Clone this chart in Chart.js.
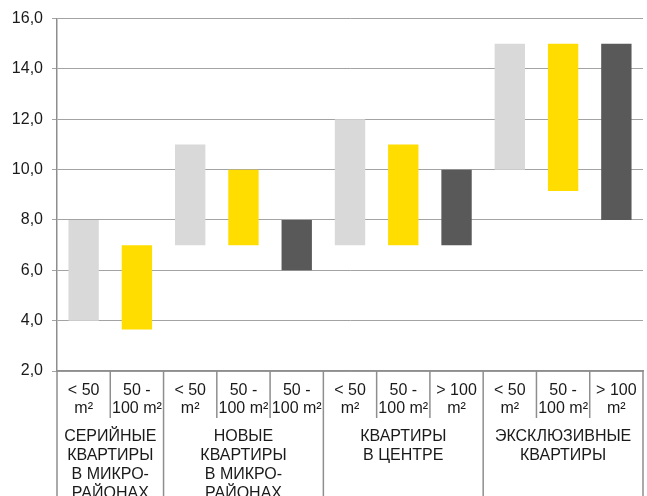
<!DOCTYPE html>
<html>
<head>
<meta charset="utf-8">
<script src="https://cdn.jsdelivr.net/npm/chart.js@4/dist/chart.umd.min.js"></script>
<style>
  html, body { margin: 0; padding: 0; background: #fff; }
  #wrap { width: 647px; height: 496px; }
</style>
</head>
<body>
<div id="wrap"><canvas id="c" width="647" height="496"></canvas></div>
<script>
// Apartment-size classes (first label row), one per bar
const sizeLabels = [
  ['< 50', 'm²'], ['50 -', '100 m²'],
  ['< 50', 'm²'], ['50 -', '100 m²'], ['50 -', '100 m²'],
  ['< 50', 'm²'], ['50 -', '100 m²'], ['> 100', 'm²'],
  ['< 50', 'm²'], ['50 -', '100 m²'], ['> 100', 'm²']
];
// Housing segments (second label row) and how many bars each covers
const groupNames = [
  ['СЕРИЙНЫЕ', 'КВАРТИРЫ', 'В МИКРО-', 'РАЙОНАХ'],
  ['НОВЫЕ', 'КВАРТИРЫ', 'В МИКРО-', 'РАЙОНАХ'],
  ['КВАРТИРЫ', 'В ЦЕНТРЕ'],
  ['ЭКСКЛЮЗИВНЫЕ', 'КВАРТИРЫ']
];
const groupSpans = [2, 3, 3, 3];
// Range of each bar: lower and upper bound
const lows  = [4.0, 3.65, 7.0, 7.0, 6.0, 7.0, 7.0, 7.0, 10.0, 9.15, 8.0];
const highs = [8.0, 7.0, 11.0, 10.0, 8.0, 12.0, 11.0, 10.0, 15.0, 15.0, 15.0];
// Colour class of each bar: 0 light, 1 yellow, 2 dark
const colorClass = [0, 1, 0, 1, 2, 0, 1, 2, 0, 1, 2];
const palette = ['#D9D9D9', '#FFDD00', '#595959'];
// Value axis ticks
const yTicks = [2, 4, 6, 8, 10, 12, 14, 16];

const FONT = "'Liberation Sans', Arial, sans-serif";
const TEXT = '#1a1a1a';
const LINE = '#8e8e8e';

const labelRows = {
  id: 'labelRows',
  afterDraw(chart) {
    const { ctx, chartArea } = chart;
    const x = chart.scales.x;
    const n = sizeLabels.length;
    const left = chartArea.left, right = chartArea.right, top = chartArea.bottom;
    const w = (right - left) / n;
    const rowBottom = top + 47;
    const bottom = chart.height;

    // boundaries between segments
    const groupEdges = new Set([0]);
    let acc = 0;
    groupSpans.forEach(s => { acc += s; groupEdges.add(acc); });

    ctx.save();
    ctx.strokeStyle = LINE;
    ctx.lineWidth = 1.5;
    for (let i = 0; i <= n; i++) {
      const xb = left + i * w;
      ctx.beginPath();
      ctx.moveTo(xb, top);
      ctx.lineTo(xb, groupEdges.has(i) ? bottom : rowBottom);
      ctx.stroke();
    }

    ctx.fillStyle = TEXT;
    ctx.font = '16px ' + FONT;
    ctx.textAlign = 'center';
    ctx.textBaseline = 'middle';
    sizeLabels.forEach((lines, i) => {
      const cx = x.getPixelForValue(i);
      lines.forEach((t, k) => ctx.fillText(t, cx, top + 20 + k * 17.5));
    });

    let start = 0;
    groupNames.forEach((lines, g) => {
      const cx = left + (start + groupSpans[g] / 2) * w;
      lines.forEach((t, k) => ctx.fillText(t, cx, top + 66 + k * 18.7));
      start += groupSpans[g];
    });
    ctx.restore();
  }
};

new Chart(document.getElementById('c'), {
  type: 'bar',
  data: {
    labels: sizeLabels.map(l => l.join(' ')),
    datasets: [{
      data: lows.map((lo, i) => [lo, highs[i]]),
      backgroundColor: colorClass.map(c => palette[c]),
      borderWidth: 0,
      categoryPercentage: 1.0,
      barPercentage: 0.57
    }]
  },
  options: {
    responsive: false,
    animation: false,
    devicePixelRatio: 1,
    layout: { padding: { top: 18, right: 4, left: 0, bottom: 0 } },
    plugins: { legend: { display: false }, tooltip: { enabled: false } },
    scales: {
      x: {
        grid: { display: false },
        border: { display: true, color: LINE, width: 1.5 },
        ticks: { display: false },
        afterFit(s) { s.height = 125; }
      },
      y: {
        min: 2, max: 16,
        afterBuildTicks(s) { s.ticks = yTicks.map(v => ({ value: v })); },
        afterFit(s) { s.width = 57; },
        grid: { color: '#a3a3a3', lineWidth: 1, tickLength: 5, drawTicks: true },
        border: { display: true, color: LINE, width: 1.5 },
        ticks: {
          padding: 9,
          color: TEXT,
          font: { family: FONT, size: 16 },
          callback: v => v.toFixed(1).replace('.', ',')
        }
      }
    }
  },
  plugins: [labelRows]
});
</script>
</body>
</html>
